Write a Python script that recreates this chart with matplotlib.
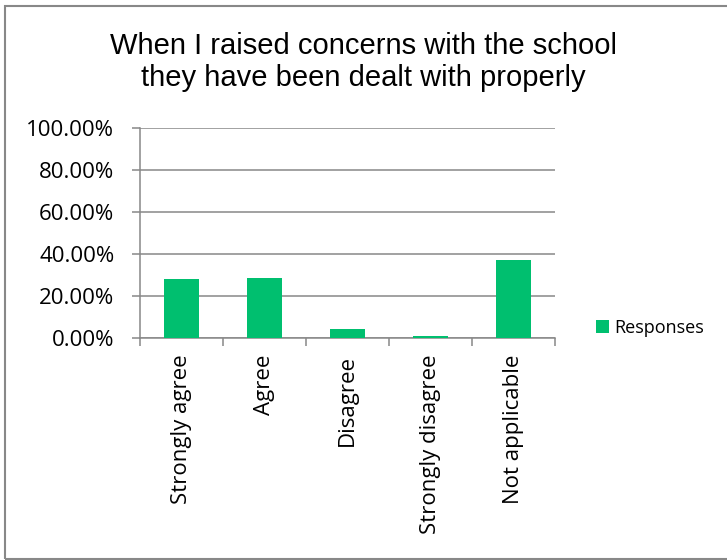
import matplotlib.pyplot as plt
from matplotlib.patches import Rectangle
from matplotlib.ticker import FixedLocator, FuncFormatter

categories = ["Strongly agree", "Agree", "Disagree", "Strongly disagree", "Not applicable"]
responses = [0.281, 0.287, 0.043, 0.010, 0.373]
y_ticks = [0.0, 0.2, 0.4, 0.6, 0.8, 1.0]

bar_color = "#00BF6F"
line_color = "#888888"

fig = plt.figure(figsize=(7.27, 5.6), dpi=100)
ax = fig.add_axes([140 / 727, 1 - 338 / 560, 415 / 727, 210 / 560])

x = range(len(categories))
ax.bar(x, responses, width=0.41, color=bar_color, label="Responses", zorder=3)

ax.set_xlim(-0.5, len(categories) - 0.5)
ax.set_ylim(0, 1.0)
ax.set_yticks(y_ticks)
ax.yaxis.set_major_formatter(FuncFormatter(lambda v, _: f"{v * 100:.2f}%"))
ax.grid(axis="y", color=line_color, linewidth=1.1, zorder=0)

ax.set_xticks(list(x))
ax.set_xticklabels(categories, rotation=90, fontsize=16, family="Open Sans")
ax.xaxis.set_minor_locator(FixedLocator([i - 0.5 for i in range(len(categories) + 1)]))
ax.tick_params(axis="x", which="major", length=0, pad=12)
ax.tick_params(axis="x", which="minor", length=5.5, width=1.1, color=line_color)
ax.tick_params(axis="y", length=5.5, width=1.1, color=line_color, labelsize=16, pad=13)
for lbl in ax.get_yticklabels():
    lbl.set_family("Open Sans")

for side in ["top", "right"]:
    ax.spines[side].set_visible(False)
for side in ["left", "bottom"]:
    ax.spines[side].set_color(line_color)
    ax.spines[side].set_linewidth(1.1)

fig.text(0.5, 1 - 62 / 560, "When I raised concerns with the school\nthey have been dealt with properly",
         ha="center", va="center", fontsize=21, family="Liberation Sans", linespacing=1.2)

fig.legend(loc="center left", bbox_to_anchor=(580 / 727, 1 - 328 / 560), frameon=False,
           prop={"family": "Open Sans", "size": 13}, handlelength=0.7, handleheight=0.7,
           handletextpad=0.3)

fig.patches.append(Rectangle((5 / 727, 1 / 560), 730 / 727, 553 / 560, transform=fig.transFigure,
                             fill=False, edgecolor=line_color, linewidth=1.5))

fig.savefig("out.png", dpi=100)
